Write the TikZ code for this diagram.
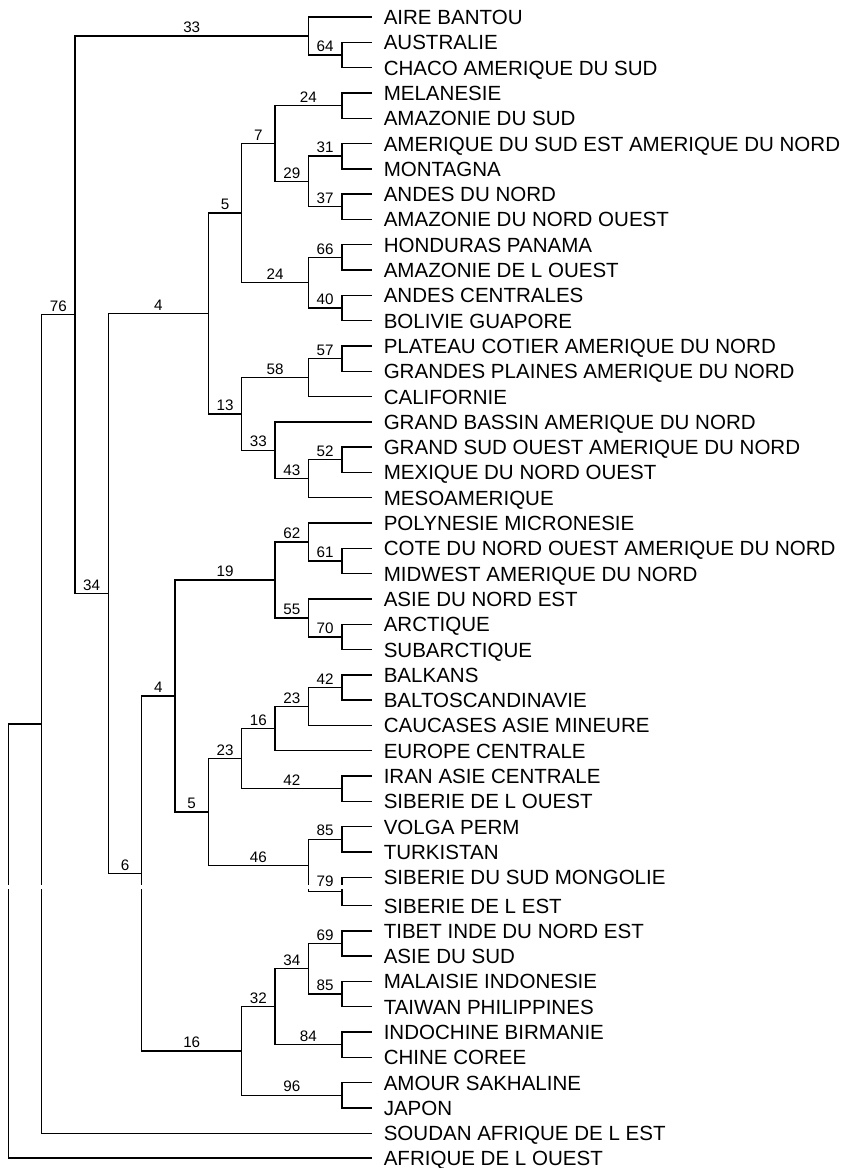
\documentclass[tikz,border=0pt]{standalone}
\usepackage{fontspec}
\setmainfont{Liberation Sans}
\usetikzlibrary{calc}
\begin{document}
\begin{tikzpicture}[x=0.75pt,y=-0.75pt,
  br/.style={line width=1.05pt, draw=black},
  bs/.style={anchor=base, inner sep=0pt, font=\fontsize{11.4}{13}\selectfont},
  leaf/.style={anchor=base west, inner sep=0pt, font=\fontsize{15.4}{18}\selectfont}]
\useasboundingbox (0,0) rectangle (845,1168);
% leaves
\foreach \i/\yy/\txt in {
 0/17/AIRE BANTOU, 1/42.3/AUSTRALIE, 2/67.6/CHACO AMERIQUE DU SUD, 3/92.9/MELANESIE,
 4/118.2/AMAZONIE DU SUD, 5/143.5/AMERIQUE DU SUD EST AMERIQUE DU NORD, 6/168.8/MONTAGNA,
 7/194.1/ANDES DU NORD, 8/219.4/AMAZONIE DU NORD OUEST, 9/244.7/HONDURAS PANAMA,
 10/270.0/AMAZONIE DE L OUEST, 11/295.3/ANDES CENTRALES, 12/320.6/BOLIVIE GUAPORE,
 13/345.9/PLATEAU COTIER AMERIQUE DU NORD, 14/371.2/GRANDES PLAINES AMERIQUE DU NORD,
 15/396.5/CALIFORNIE, 16/421.8/GRAND BASSIN AMERIQUE DU NORD,
 17/447.1/GRAND SUD OUEST AMERIQUE DU NORD, 18/472.4/MEXIQUE DU NORD OUEST,
 19/497.7/MESOAMERIQUE, 20/523.0/POLYNESIE MICRONESIE,
 21/548.3/COTE DU NORD OUEST AMERIQUE DU NORD, 22/573.6/MIDWEST AMERIQUE DU NORD,
 23/598.9/ASIE DU NORD EST, 24/624.2/ARCTIQUE, 25/649.5/SUBARCTIQUE, 26/674.8/BALKANS,
 27/700.1/BALTOSCANDINAVIE, 28/725.4/CAUCASES ASIE MINEURE, 29/750.7/EUROPE CENTRALE,
 30/776.0/IRAN ASIE CENTRALE, 31/801.3/SIBERIE DE L OUEST, 32/826.6/VOLGA PERM,
 33/851.9/TURKISTAN, 34/877.2/SIBERIE DU SUD MONGOLIE, 35/905.5/SIBERIE DE L EST,
 36/930.8/TIBET INDE DU NORD EST, 37/956.1/ASIE DU SUD, 38/981.4/MALAISIE INDONESIE,
 39/1006.7/TAIWAN PHILIPPINES, 40/1032.0/INDOCHINE BIRMANIE, 41/1057.3/CHINE COREE,
 42/1082.6/AMOUR SAKHALINE, 43/1107.9/JAPON, 44/1133.2/SOUDAN AFRIQUE DE L EST,
 45/1158.0/AFRIQUE DE L OUEST}{
  \coordinate (l\i) at (371.7,\yy);
  \node[leaf] (t\i) at (383.5,\yy+7.5) {\txt};
}
% internal nodes
\coordinate (n0) at (8.3,941.0);
\coordinate (n1) at (41.65,723.97);
\coordinate (n76) at (75.0,314.73);
\coordinate (n33) at (308.45,35.98);
\coordinate (n64) at (341.8,54.95);
\coordinate (n34) at (108.35,593.48);
\coordinate (n4a) at (208.4,313.49);
\coordinate (n5) at (241.75,213.08);
\coordinate (n7) at (275.1,143.5);
\coordinate (n24a) at (341.8,105.55);
\coordinate (n29) at (308.45,181.45);
\coordinate (n31) at (341.8,156.15);
\coordinate (n37) at (341.8,206.75);
\coordinate (n24b) at (308.45,282.65);
\coordinate (n66) at (341.8,257.35);
\coordinate (n40) at (341.8,307.95);
\coordinate (n13) at (241.75,413.9);
\coordinate (n58) at (308.45,377.53);
\coordinate (n57) at (341.8,358.55);
\coordinate (n33b) at (275.1,450.26);
\coordinate (n43) at (308.45,478.73);
\coordinate (n52) at (341.8,459.75);
\coordinate (n6) at (141.7,873.46);
\coordinate (n4b) at (175.05,695.94);
\coordinate (n19) at (275.1,579.93);
\coordinate (n62) at (308.45,541.98);
\coordinate (n61) at (341.8,560.95);
\coordinate (n55) at (308.45,617.88);
\coordinate (n70) at (341.8,636.85);
\coordinate (n5b) at (208.4,811.95);
\coordinate (n23a) at (241.75,758.6);
\coordinate (n16b) at (275.1,728.56);
\coordinate (n23b) at (308.45,706.43);
\coordinate (n42a) at (341.8,687.45);
\coordinate (n42b) at (341.8,788.65);
\coordinate (n46) at (308.45,865.3);
\coordinate (n85a) at (341.8,839.25);
\coordinate (n79) at (341.8,891.35);
\coordinate (n16) at (241.75,1050.98);
\coordinate (n32) at (275.1,1006.7);
\coordinate (n34c) at (308.45,968.75);
\coordinate (n69) at (341.8,943.45);
\coordinate (n85b) at (341.8,994.05);
\coordinate (n84) at (341.8,1044.65);
\coordinate (n96) at (341.8,1095.25);
% branches
\foreach \p/\c in {n0/n1, n0/l45, n1/n76, n1/l44, n76/n33, n76/n34,
  n33/l0, n33/n64, n64/l1, n64/l2, n34/n4a, n34/n6,
  n4a/n5, n4a/n13, n5/n7, n5/n24b, n7/n24a, n7/n29, n24a/l3, n24a/l4,
  n29/n31, n29/n37, n31/l5, n31/l6, n37/l7, n37/l8,
  n24b/n66, n24b/n40, n66/l9, n66/l10, n40/l11, n40/l12,
  n13/n58, n13/n33b, n58/n57, n58/l15, n57/l13, n57/l14,
  n33b/l16, n33b/n43, n43/n52, n43/l19, n52/l17, n52/l18,
  n6/n4b, n6/n16, n4b/n19, n4b/n5b, n19/n62, n19/n55,
  n62/l20, n62/n61, n61/l21, n61/l22, n55/l23, n55/n70, n70/l24, n70/l25,
  n5b/n23a, n5b/n46, n23a/n16b, n23a/n42b, n16b/n23b, n16b/l29,
  n23b/n42a, n23b/l28, n42a/l26, n42a/l27, n42b/l30, n42b/l31,
  n46/n85a, n46/n79, n85a/l32, n85a/l33, n79/l34, n79/l35,
  n16/n32, n16/n96, n32/n34c, n32/n84, n34c/n69, n34c/n85b,
  n69/l36, n69/l37, n85b/l38, n85b/l39, n84/l40, n84/l41, n96/l42, n96/l43}{
  \draw[br] (\p) |- (\c);
}
% page-break gap
\fill[white] (0,885) rectangle (380,889);
% support values
\foreach \p/\c/\v in {n1/n76/76, n76/n33/33, n33/n64/64, n76/n34/34, n34/n4a/4,
  n4a/n5/5, n5/n7/7, n7/n24a/24, n7/n29/29, n29/n31/31, n29/n37/37,
  n5/n24b/24, n24b/n66/66, n24b/n40/40, n4a/n13/13, n13/n58/58, n58/n57/57,
  n13/n33b/33, n33b/n43/43, n43/n52/52, n34/n6/6, n6/n4b/4, n4b/n19/19,
  n19/n62/62, n62/n61/61, n19/n55/55, n55/n70/70, n4b/n5b/5, n5b/n23a/23,
  n23a/n16b/16, n16b/n23b/23, n23b/n42a/42, n23a/n42b/42, n5b/n46/46,
  n46/n85a/85, n6/n16/16, n16/n32/32, n32/n34c/34, n34c/n69/69,
  n34c/n85b/85, n32/n84/84, n16/n96/96}{
  \node[bs] (b\c) at ($(\p |- \c)!.5!(\c)+(0,-3.3)$) {\v};
}
\node[bs] (bn79) at ($(n46 |- n79)!.5!(n79)+(0,-5.2)$) {79};
\end{tikzpicture}
\end{document}
